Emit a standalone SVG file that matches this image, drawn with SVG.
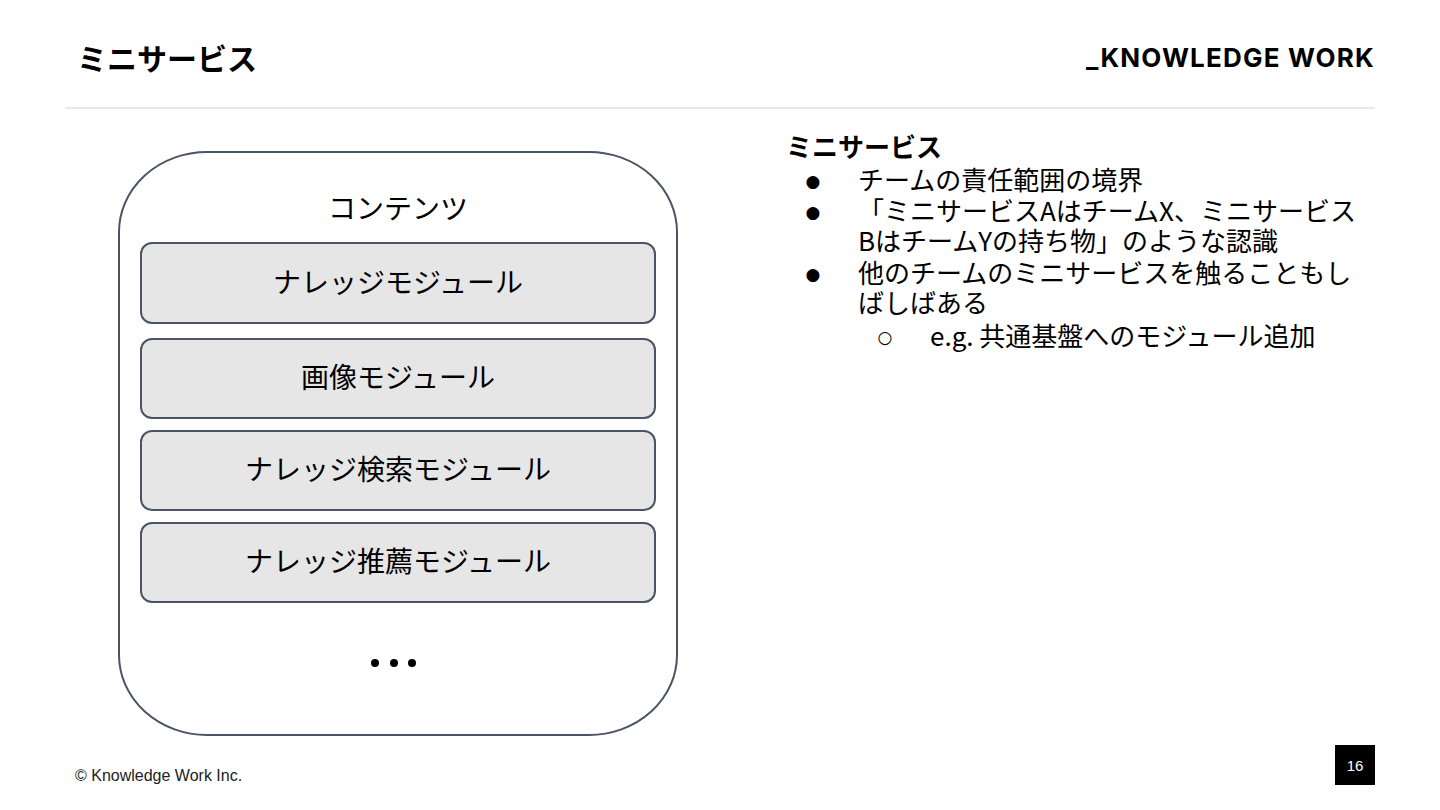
<svg xmlns="http://www.w3.org/2000/svg" width="1440" height="810" viewBox="0 0 1440 810">
<style>
.jp{font-family:"Noto Sans CJK JP","Noto Sans",sans-serif;fill:#000}
.mod{fill:#e6e6e6;stroke:#4a5465;stroke-width:2}
.mt{font-family:"Noto Sans CJK JP",sans-serif;font-size:28px;text-anchor:middle;fill:#000}
.bt{font-family:"Noto Sans CJK JP",sans-serif;font-size:26px;fill:#000}
.bu{font-family:"DejaVu Sans",sans-serif;font-size:17px;text-anchor:middle;fill:#000}
</style>
<rect width="1440" height="810" fill="#fff"/>
<g id="header">
<text x="77" y="70" class="jp" font-size="30" font-weight="bold">ミニサービス</text>
<text x="1375" y="67" font-family="Inter,'Liberation Sans',sans-serif" font-size="26" font-weight="bold" text-anchor="end" letter-spacing="1.2">_KNOWLEDGE WORK</text>
<line x1="65" y1="108" x2="1375" y2="108" stroke="#e8e8e8" stroke-width="2"/>
</g>
<g id="contents">
<path d="M207,152 H589 A88,80 0 0 1 677,232 V655 A88,80 0 0 1 589,735 H207 A88,80 0 0 1 119,655 V232 A88,80 0 0 1 207,152 Z" fill="#fff" stroke="#4a5465" stroke-width="2"/>
<text x="398" y="219" class="mt">コンテンツ</text>
<circle cx="375" cy="663" r="4" fill="#000"/>
<circle cx="394" cy="663" r="4" fill="#000"/>
<circle cx="412" cy="663" r="4" fill="#000"/>
</g>
<g id="knowledge-module">
<rect x="141" y="243" width="514" height="80" rx="11" class="mod"/>
<text x="398" y="293" class="mt">ナレッジモジュール</text>
</g>
<g id="image-module">
<rect x="141" y="339" width="514" height="79" rx="11" class="mod"/>
<text x="398" y="388" class="mt">画像モジュール</text>
</g>
<g id="search-module">
<rect x="141" y="431" width="514" height="79" rx="11" class="mod"/>
<text x="398" y="480" class="mt">ナレッジ検索モジュール</text>
</g>
<g id="recommend-module">
<rect x="141" y="523" width="514" height="79" rx="11" class="mod"/>
<text x="398" y="572" class="mt">ナレッジ推薦モジュール</text>
</g>
<g id="notes">
<text x="786" y="157" class="bt" font-weight="bold">ミニサービス</text>
<text x="813" y="187" class="bu">●</text>
<text x="858" y="190" class="bt">チームの責任範囲の境界</text>
<text x="813" y="218" class="bu">●</text>
<text x="858" y="221" class="bt">「ミニサービスAはチームX、ミニサービス</text>
<text x="858" y="251" class="bt">BはチームYの持ち物」のような認識</text>
<text x="813" y="280" class="bu">●</text>
<text x="858" y="283" class="bt">他のチームのミニサービスを触ることもし</text>
<text x="858" y="313" class="bt">ばしばある</text>
<text x="885" y="343" class="bu">○</text>
<text x="930" y="346" class="bt">e.g. 共通基盤へのモジュール追加</text>
</g>
<g id="footer">
<text x="75" y="781" font-family="'Liberation Sans',Arial,sans-serif" font-size="16" fill="#222">© Knowledge Work Inc.</text>
<rect x="1335" y="745" width="40" height="40" fill="#000"/>
<text x="1355" y="771" font-family="'Liberation Sans',Arial,sans-serif" font-size="15" fill="#fff" text-anchor="middle">16</text>
</g>
</svg>
